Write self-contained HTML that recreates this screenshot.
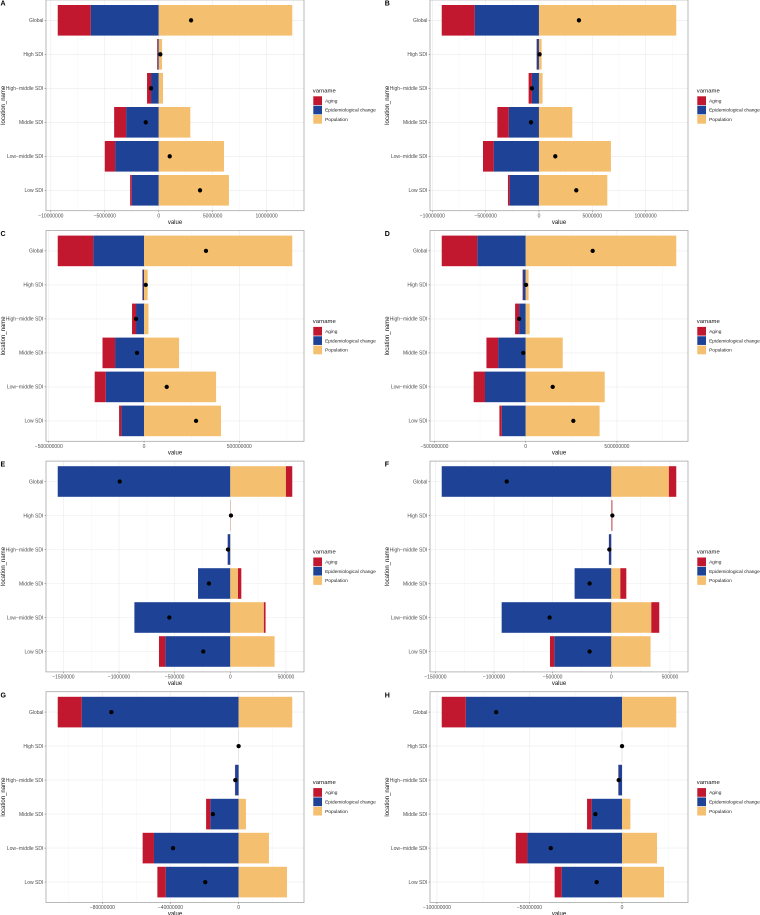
<!DOCTYPE html>
<html lang="en">
<head>
<meta charset="utf-8">
<title>Decomposition bar charts</title>
<style>
html,body{margin:0;padding:0;background:#fff;}
svg{display:block;font-family:"Liberation Sans",sans-serif;}
</style>
</head>
<body>
<svg id="figure" xmlns="http://www.w3.org/2000/svg" width="760" height="915" viewBox="0 0 760 915">
<rect x="0" y="0" width="760" height="915" fill="#ffffff"></rect>
</svg>
<script>
const categories = ['Global', 'High SDI', 'High\u2212middle SDI', 'Middle SDI', 'Low\u2212middle SDI', 'Low SDI'];
const legendLabels = ['Aging', 'Epidemiological change', 'Population'];

const agingA = [-3060000, -50000, -370000, -1110000, -960000, -150000];
const epiA = [-6300000, -100000, -710000, -3020000, -4040000, -2500000];
const popA = [12380000, 310000, 400000, 2930000, 6050000, 6510000];
const dotA = [3000000, 150000, -710000, -1200000, 1020000, 3830000];
const ticksA = [-10000000, -5000000, 0, 5000000, 10000000];

const agingB = [-3090000, -30000, -310000, -1060000, -1000000, -160000];
const epiB = [-6030000, -200000, -660000, -2840000, -4250000, -2750000];
const popB = [12880000, 250000, 340000, 3130000, 6750000, 6410000];
const dotB = [3750000, 60000, -660000, -750000, 1530000, 3500000];
const ticksB = [-10000000, -5000000, 0, 5000000, 10000000];

const agingC = [-187000000, -2000000, -21000000, -66000000, -58000000, -12000000];
const epiC = [-266000000, -7000000, -42000000, -152000000, -201000000, -119000000];
const popC = [778000000, 19000000, 23000000, 184000000, 378000000, 404000000];
const dotC = [325000000, 9000000, -42000000, -37000000, 119000000, 273000000];
const ticksC = [-500000000, 0, 500000000];

const agingD = [-195000000, -2000000, -22000000, -64000000, -62000000, -13000000];
const epiD = [-265000000, -15000000, -36000000, -151000000, -223000000, -131000000];
const popD = [825000000, 16000000, 22000000, 203000000, 433000000, 405000000];
const dotD = [367000000, 2000000, -36000000, -13000000, 148000000, 261000000];
const ticksD = [-500000000, 0, 500000000];

const agingE = [57000, 1000, -1000, 30000, 15000, -57000];
const epiE = [-1551000, -1000, -23000, -290000, -862000, -584000];
const popE = [500000, 2000, 1000, 69000, 302000, 398000];
const dotE = [-994000, 6000, -21000, -192000, -548000, -243000];
const ticksE = [-1500000, -1000000, -500000, 0, 500000];

const agingF = [63000, 6000, -1000, 51000, 68000, -37000];
const epiF = [-1446000, -1000, -20000, -313000, -935000, -486000];
const popF = [491000, 3000, 1000, 77000, 341000, 335000];
const dotF = [-892000, 9000, -17000, -185000, -526000, -185000];
const ticksF = [-1500000, -1000000, -500000, 0, 500000];

const agingG = [-14100000, -10000, -100000, -2500000, -6650000, -4900000];
const epiG = [-92100000, -30000, -2050000, -16600000, -49700000, -42800000];
const popG = [31500000, 30000, 50000, 4300000, 17800000, 28400000];
const dotG = [-74700000, 0, -1960000, -15100000, -38500000, -19600000];
const ticksG = [-80000000, -40000000, 0];

const agingH = [-13000000, -10000, -100000, -2500000, -6300000, -3800000];
const epiH = [-84400000, -30000, -1900000, -16400000, -51100000, -32600000];
const popH = [29300000, 30000, 50000, 4500000, 18900000, 22700000];
const dotH = [-68000000, 0, -1800000, -14400000, -38500000, -13700000];
const ticksH = [-100000000, -50000000, 0];

const svg = document.getElementById('figure');
const NS = 'http://www.w3.org/2000/svg';
const AGING = '#c1182f', EPI = '#1d4296', POP = '#f5bf70';

function mk(tag, attrs, parent, text) {
  const el = document.createElementNS(NS, tag);
  for (const k in attrs) el.setAttribute(k, attrs[k]);
  if (text !== undefined) el.textContent = text;
  parent.appendChild(el);
  return el;
}

function renderPanel(letter, aging, epi, pop, dots, ticks, col, row) {
  const left = 46 + col * 384, right = left + 258;
  const top = -0.1 + row * 230.6, bottom = top + 210.8;
  const step = 34, barH = 30.6;
  const id = letter.toLowerCase();

  const g = mk('g', {}, svg);
  
  

  // x scale: stacked extents plus 5% expansion
  const negs = categories.map((c, i) => Math.min(aging[i], 0) + Math.min(epi[i], 0) + Math.min(pop[i], 0));
  const poss = categories.map((c, i) => Math.max(aging[i], 0) + Math.max(epi[i], 0) + Math.max(pop[i], 0));
  const lo = Math.min.apply(null, negs), hi = Math.max.apply(null, poss);
  const pad = (hi - lo) * 0.05;
  const d0 = lo - pad, d1 = hi + pad;
  const xs = v => left + (v - d0) / (d1 - d0) * (right - left);
  const ys = i => top + 20.4 + i * step;

  // minor grid
  const half = (ticks[1] - ticks[0]) / 2;
  for (let v = ticks[0] - half; v <= d1; v += half * 2) {
    if (v < d0) continue;
    const el = mk('line', {x1: xs(v), x2: xs(v), y1: top, y2: bottom, stroke: '#f2f2f2', 'stroke-width': 0.4}, g);
    
    
  }
  // major grid
  ticks.forEach(v => {
    const el = mk('line', {x1: xs(v), x2: xs(v), y1: top, y2: bottom, stroke: '#ebebeb', 'stroke-width': 0.6}, g);
    
    
  });
  categories.forEach((c, i) => {
    const el = mk('line', {x1: left, x2: right, y1: ys(i), y2: ys(i), stroke: '#ebebeb', 'stroke-width': 0.6}, g);
    
    
  });

  // stacked bars: epi and population sit next to zero, aging on the outside
  categories.forEach((c, i) => {
    let negEnd = 0, posEnd = 0;
    [[epi[i], EPI, 'epidemiological-change'], [pop[i], POP, 'population'], [aging[i], AGING, 'aging']].forEach(s => {
      const v = s[0];
      let a, b;
      if (v < 0) { a = negEnd + v; b = negEnd; negEnd = a; }
      else { a = posEnd; b = posEnd + v; posEnd = b; }
      const el = mk('rect', {x: xs(a), y: ys(i) - barH / 2, width: Math.max(xs(b) - xs(a), 0), height: barH, fill: s[1]}, g);
      
      
    });
  });

  // dots for the net change
  categories.forEach((c, i) => {
    const el = mk('circle', {cx: xs(dots[i]), cy: ys(i), r: 2.15, fill: '#000000'}, g);
    
    
  });

  // panel border
  const border = mk('rect', {x: left, y: top, width: right - left, height: bottom - top, fill: 'none', stroke: '#a8a8a8', 'stroke-width': 0.8}, g);
  
  

  // y axis
  categories.forEach((c, i) => {
    const tick = mk('line', {x1: left - 1.5, x2: left, y1: ys(i), y2: ys(i), stroke: '#555555', 'stroke-width': 0.4}, g);
    
    
    const label = mk('text', {x: left - 2.6, y: ys(i) + 1.75, 'text-anchor': 'end', 'font-size': 5, fill: '#4d4d4d'}, g, c);
    
    
  });

  // x axis
  ticks.forEach(v => {
    const tick = mk('line', {x1: xs(v), x2: xs(v), y1: bottom, y2: bottom + 1.5, stroke: '#555555', 'stroke-width': 0.4}, g);
    
    
    const label = mk('text', {x: xs(v), y: bottom + 6.6, 'text-anchor': 'middle', 'font-size': 5, fill: '#4d4d4d'}, g, String(v).replace('-', '\u2212'));
    
    
  });

  // axis titles
  const xTitle = mk('text', {x: (left + right) / 2, y: bottom + 13.2, 'text-anchor': 'middle', 'font-size': 6, fill: '#111111'}, g, 'value');
  
  
  const yx = left - 41, yy = (top + bottom) / 2;
  const yTitle = mk('text', {x: yx, y: yy, 'text-anchor': 'middle', 'font-size': 6, fill: '#111111', transform: 'rotate(-90 ' + yx + ' ' + yy + ')'}, g, 'location_name');
  
  

  // panel letter
  const tag = mk('text', {x: left - 45.5 + col * 0.2, y: top + 5.6, 'font-size': 7, 'font-weight': 'bold', fill: '#000000'}, g, letter);
  
  

  // legend
  const lx = right + 9.3;
  const legendTitle = mk('text', {x: lx - 0.5, y: top + 92.5, 'font-size': 5.9, fill: '#111111'}, g, 'varname');
  
  
  [AGING, EPI, POP].forEach((color, i) => {
    const ky = top + 96.4 + i * 9.35;
    const key = mk('rect', {x: lx, y: ky, width: 8.7, height: 8.7, fill: color}, g);
    
    
    const label = mk('text', {x: lx + 11.8, y: ky + 6, 'font-size': 4.8, fill: '#222222'}, g, legendLabels[i]);
    
    
  });
}

renderPanel('A', agingA, epiA, popA, dotA, ticksA, 0, 0);
renderPanel('B', agingB, epiB, popB, dotB, ticksB, 1, 0);
renderPanel('C', agingC, epiC, popC, dotC, ticksC, 0, 1);
renderPanel('D', agingD, epiD, popD, dotD, ticksD, 1, 1);
renderPanel('E', agingE, epiE, popE, dotE, ticksE, 0, 2);
renderPanel('F', agingF, epiF, popF, dotF, ticksF, 1, 2);
renderPanel('G', agingG, epiG, popG, dotG, ticksG, 0, 3);
renderPanel('H', agingH, epiH, popH, dotH, ticksH, 1, 3);
</script>
</body>
</html>
